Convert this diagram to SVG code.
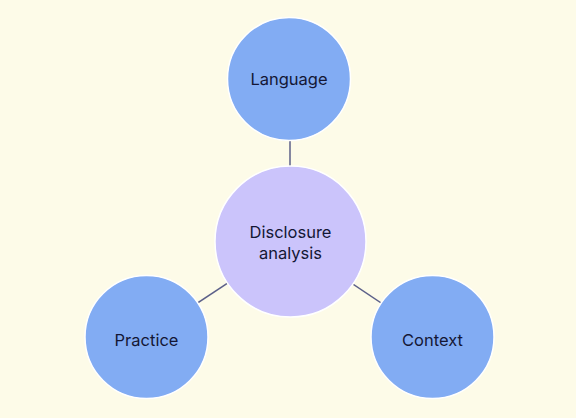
<svg xmlns="http://www.w3.org/2000/svg" width="576" height="418" viewBox="0 0 576 418">
<style>
.n{fill:#82acf3;stroke:#ffffff;stroke-width:1.5}
.c{fill:#cbc4fb;stroke:#ffffff;stroke-width:1.5}
.t{font-family:Inter,"Liberation Sans",sans-serif;font-size:16.5px;fill:#141735;text-anchor:middle;dominant-baseline:central}
.e{stroke:#5c6089;stroke-width:1.5;fill:none}
</style>
<rect width="576" height="418" fill="#fdfbe8"/>
<g id="connectors">
<line class="e" x1="290" y1="79" x2="290" y2="242"/>
<line class="e" x1="146" y1="337" x2="290" y2="242"/>
<line class="e" x1="432" y1="337" x2="290" y2="242"/>
</g>
<g id="language">
<circle class="n" cx="289" cy="79" r="61.5"/>
<text class="t" x="289" y="79">Language</text>
</g>
<g id="disclosure">
<circle class="c" cx="290.5" cy="241.5" r="75.5"/>
<text class="t" x="290.5" y="232">Disclosure</text>
<text class="t" x="290.5" y="253">analysis</text>
</g>
<g id="practice">
<circle class="n" cx="146.5" cy="337" r="61.5"/>
<text class="t" x="146.5" y="340">Practice</text>
</g>
<g id="context">
<circle class="n" cx="432.5" cy="337" r="61.5"/>
<text class="t" x="432.5" y="340">Context</text>
</g>
</svg>
